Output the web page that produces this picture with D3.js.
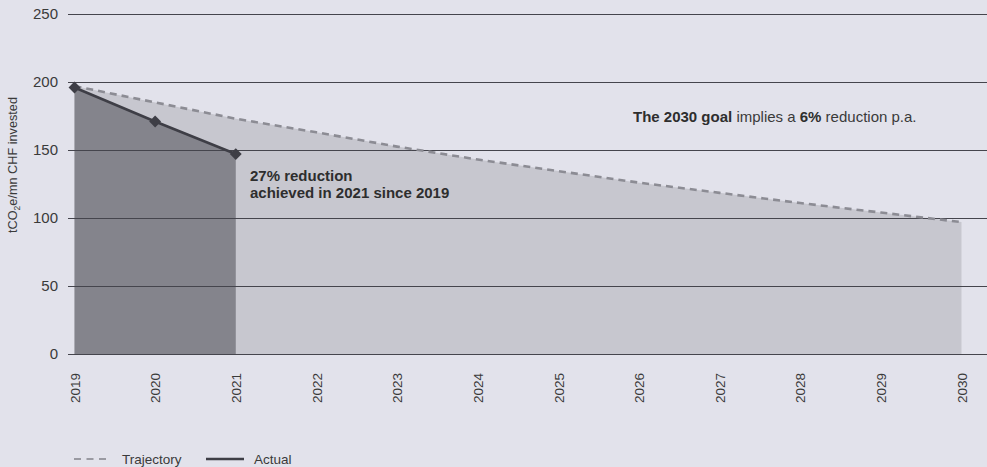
<!DOCTYPE html>
<html>
<head>
<meta charset="utf-8">
<script src="https://cdn.jsdelivr.net/npm/d3@7"></script>
<style>
  html, body { margin: 0; padding: 0; background: #e2e2eb; }
  svg { display: block; font-family: "Liberation Sans", Arial, sans-serif; }
</style>
</head>
<body>
<svg id="chart" width="987" height="467"></svg>
<script>
const years = [2019, 2020, 2021, 2022, 2023, 2024, 2025, 2026, 2027, 2028, 2029, 2030];
const trajectory = [197, 185, 173, 163, 152.5, 143, 134.5, 126, 118.5, 111, 104, 97];
const actualYears = [2019, 2020, 2021];
const actual = [196, 171, 147];
const yTicks = [0, 50, 100, 150, 200, 250];

const svg = d3.select("#chart");
const W = 987, H = 467;
svg.append("rect").attr("width", W).attr("height", H).attr("fill", "#e2e2eb");

const x = d3.scaleLinear().domain([2019, 2030]).range([74.5, 961.5]);
const y = d3.scaleLinear().domain([0, 250]).range([354, 14]);

const traj = years.map((yr, i) => ({yr, v: trajectory[i]}));
const act = actualYears.map((yr, i) => ({yr, v: actual[i]}));

const area = d3.area().x(d => x(d.yr)).y0(y(0)).y1(d => y(d.v));
const line = d3.line().x(d => x(d.yr)).y(d => y(d.v));

svg.append("path").datum(traj).attr("d", area).attr("fill", "#c7c7cf");
svg.append("path").datum(act).attr("d", area).attr("fill", "#84848c");

// grid lines
const gridX0 = 68, gridX1 = 987;
svg.append("g").selectAll("line").data(yTicks).join("line")
  .attr("x1", gridX0).attr("x2", gridX1)
  .attr("y1", d => y(d)).attr("y2", d => y(d))
  .attr("stroke", "#45454d").attr("stroke-width", 1).attr("shape-rendering", "crispEdges");

// y axis labels
const yAxis = d3.axisLeft(y).tickValues(yTicks).tickSize(0).tickPadding(0);
const gy = svg.append("g").attr("transform", "translate(58,0)").call(yAxis);
gy.select(".domain").remove();
gy.selectAll("text").attr("font-size", 15).attr("fill", "#3a3a3a")
  .attr("font-family", "Liberation Sans, Arial, sans-serif");

// y axis title
const yt = svg.append("text")
  .attr("transform", "translate(17,165) rotate(-90)")
  .attr("text-anchor", "middle").attr("font-size", 12.7).attr("fill", "#3a3a3a");
yt.append("tspan").text("tCO");
yt.append("tspan").text("2").attr("font-size", 8.5).attr("dy", 3);
yt.append("tspan").text("e/mn CHF invested").attr("dy", -3);

// x axis labels
const xAxis = d3.axisBottom(x).tickValues(years).tickFormat(d3.format("d")).tickSize(0).tickPadding(0);
const gx = svg.append("g").attr("transform", "translate(0,372)").call(xAxis);
gx.select(".domain").remove();
gx.selectAll("text")
  .attr("font-size", 13.5).attr("fill", "#3a3a3a")
  .attr("font-family", "Liberation Sans, Arial, sans-serif")
  .attr("transform", "rotate(-90)")
  .attr("text-anchor", "end")
  .attr("x", -1).attr("y", 0).attr("dy", "0.35em");

// trajectory dashed line
svg.append("path").datum(traj).attr("d", line)
  .attr("fill", "none").attr("stroke", "#8c8c94").attr("stroke-width", 2.6)
  .attr("stroke-dasharray", "7,5");

// actual line
svg.append("path").datum(act).attr("d", line)
  .attr("fill", "none").attr("stroke", "#3e3e46").attr("stroke-width", 2.6);

svg.append("g").selectAll("path").data(act).join("path")
  .attr("d", d3.symbol().type(d3.symbolDiamond2).size(90))
  .attr("transform", d => `translate(${x(d.yr)},${y(d.v)})`)
  .attr("fill", "#3e3e46");

// annotations
const a1 = svg.append("text").attr("x", 250).attr("y", 181)
  .attr("font-size", 15).attr("font-weight", "bold").attr("fill", "#2e2e2e");
a1.append("tspan").text("27% reduction");
a1.append("tspan").attr("x", 250).attr("dy", 17).text("achieved in 2021 since 2019");

const a2 = svg.append("text").attr("x", 633).attr("y", 121.5)
  .attr("font-size", 15).attr("fill", "#3a3a3a");
a2.append("tspan").attr("font-weight", "bold").attr("fill", "#2e2e2e").text("The 2030 goal");
a2.append("tspan").text(" implies a ");
a2.append("tspan").attr("font-weight", "bold").attr("fill", "#2e2e2e").text("6%");
a2.append("tspan").text(" reduction p.a.");

// legend
const lg = svg.append("g");
lg.append("line").attr("x1", 74).attr("x2", 111).attr("y1", 459).attr("y2", 459)
  .attr("stroke", "#9a9aa2").attr("stroke-width", 2.2).attr("stroke-dasharray", "7,5.5");
lg.append("text").attr("x", 122).attr("y", 464).attr("font-size", 13.5).attr("fill", "#3a3a3a").text("Trajectory");
lg.append("line").attr("x1", 206).attr("x2", 244).attr("y1", 459).attr("y2", 459)
  .attr("stroke", "#3e3e46").attr("stroke-width", 2.6);
lg.append("text").attr("x", 254).attr("y", 464).attr("font-size", 13.5).attr("fill", "#3a3a3a").text("Actual");
</script>
</body>
</html>
